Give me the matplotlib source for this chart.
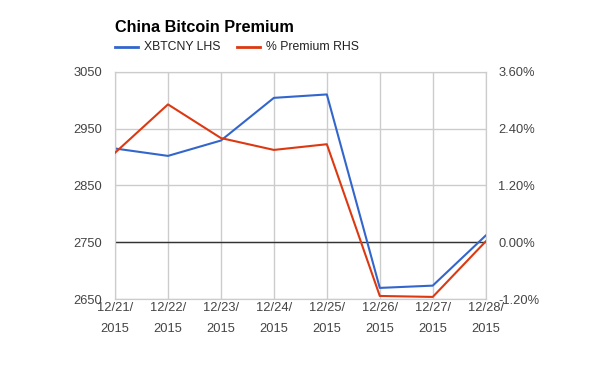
import matplotlib.pyplot as plt
from matplotlib.ticker import FuncFormatter

plt.rcParams['font.family'] = ['Liberation Sans', 'DejaVu Sans']

dates = ['12/21/\n2015', '12/22/\n2015', '12/23/\n2015', '12/24/\n2015',
         '12/25/\n2015', '12/26/\n2015', '12/27/\n2015', '12/28/\n2015']
xbtcny = [2915, 2902, 2929, 3004, 3010, 2670, 2674, 2762]
premium = [1.89, 2.91, 2.20, 1.95, 2.07, -1.13, -1.15, 0.02]

left_ticks = [2650, 2750, 2850, 2950, 3050]
right_ticks = [-1.2, 0.0, 1.2, 2.4, 3.6]

blue = '#3366CC'
red = '#DC3912'
grid_c = '#cccccc'
label_c = '#444444'

fig = plt.figure(figsize=(6, 3.71), dpi=100)
ax = fig.add_axes([0.1917, 0.1933, 0.6178, 0.6135])
ax2 = ax.twinx()

x = list(range(len(dates)))
ax.plot(x, xbtcny, color=blue, lw=1.5, zorder=3)
ax2.plot(x, premium, color=red, lw=1.5, zorder=3)

ax.set_xlim(0, len(dates) - 1)
ax.set_ylim(left_ticks[0], left_ticks[-1])
ax2.set_ylim(right_ticks[0], right_ticks[-1])
ax.set_yticks(left_ticks)
ax2.set_yticks(right_ticks)
ax.set_xticks(x)
ax.set_xticklabels(dates, linespacing=1.95)
ax2.yaxis.set_major_formatter(FuncFormatter(lambda v, p: f'{v:.2f}%'))

ax.grid(True, color=grid_c, lw=1)
ax.axhline(2750, color='#333333', lw=1, zorder=2)
for a in (ax, ax2):
    for s in a.spines.values():
        s.set_color(grid_c)
    a.tick_params(length=0, labelsize=9.3, colors=label_c)
ax.tick_params(axis='y', pad=9)
ax2.tick_params(axis='y', pad=9)
ax.tick_params(axis='x', pad=2)

fig.text(0.1917, 0.927, 'China Bitcoin Premium', fontsize=11.7, fontweight='bold',
         ha='left', va='center')

# legend drawn by hand to match the layout
ly = 1 - 47 / 371
fig.add_artist(plt.Line2D([115 / 600, 138 / 600], [ly, ly], color=blue, lw=2))
fig.text(144 / 600, ly, 'XBTCNY LHS', fontsize=8.8, color='#222222', va='center')
fig.add_artist(plt.Line2D([237 / 600, 260 / 600], [ly, ly], color=red, lw=2))
fig.text(266 / 600, ly, '% Premium RHS', fontsize=8.8, color='#222222', va='center')

fig.savefig('out.png', dpi=100)
